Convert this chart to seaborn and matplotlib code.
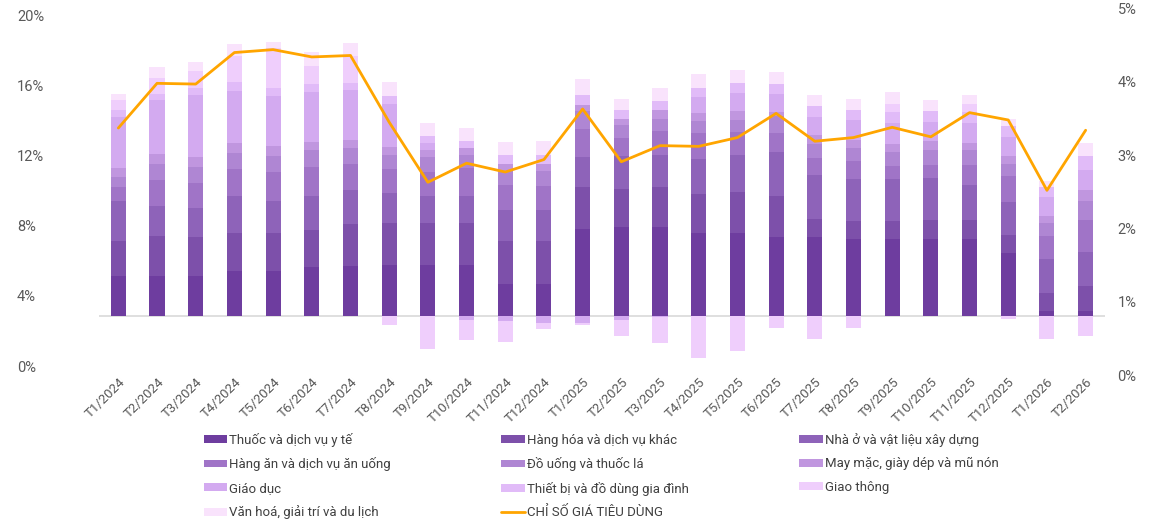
import numpy as np
import pandas as pd
import seaborn as sns
import matplotlib.pyplot as plt
from matplotlib.patches import Patch
from matplotlib.lines import Line2D

# thang
months = ['T1/2024', 'T2/2024', 'T3/2024', 'T4/2024', 'T5/2024', 'T6/2024',
          'T7/2024', 'T8/2024', 'T9/2024', 'T10/2024', 'T11/2024', 'T12/2024',
          'T1/2025', 'T2/2025', 'T3/2025', 'T4/2025', 'T5/2025', 'T6/2025',
          'T7/2025', 'T8/2025', 'T9/2025', 'T10/2025', 'T11/2025', 'T12/2025',
          'T1/2026', 'T2/2026']

# dong gop cua tung nhom (doc tu hinh, don vi truc trai)
thuoc = [2.29, 2.29, 2.29, 2.59, 2.59, 2.82, 2.86, 2.91, 2.91, 2.91, 1.83, 1.83, 4.95,
         5.05, 5.10, 4.76, 4.76, 4.53, 4.48, 4.40, 4.42, 4.42, 4.42, 3.62, 0.30, 0.30]
hang_hoa = [2.00, 2.25, 2.19, 2.17, 2.17, 2.10, 2.40, 2.42, 2.42, 2.42, 2.46, 2.46, 2.42,
            2.21, 2.25, 2.21, 2.29, 2.32, 1.07, 1.03, 1.01, 1.07, 1.07, 1.01, 1.03, 1.41]
nha_o = [2.25, 1.75, 1.70, 2.10, 1.81, 1.94, 1.94, 1.71, 1.54, 1.49, 1.77, 1.77, 1.71,
         1.85, 1.85, 2.00, 2.15, 2.51, 2.46, 2.40, 2.38, 2.36, 2.00, 1.85, 1.94, 1.92]
hang_an = [0.80, 1.47, 1.43, 1.52, 1.62, 1.64, 1.49, 1.33, 1.35, 1.62, 1.43, 1.37, 1.60,
           1.03, 1.37, 1.47, 1.30, 1.05, 1.01, 0.99, 0.72, 0.74, 1.14, 1.49, 1.30, 1.85]
do_uong = [0.61, 0.93, 0.91, 0.90, 0.91, 0.95, 0.91, 0.82, 0.84, 0.74, 0.76, 0.86, 0.99,
           0.72, 0.67, 0.67, 0.70, 0.97, 0.76, 0.76, 0.84, 0.86, 0.82, 0.67, 0.72, 1.05]
may_mac = [0.50, 0.57, 0.55, 0.61, 0.61, 0.46, 0.46, 0.44, 0.38, 0.42, 0.44, 0.40, 0.38,
           0.38, 0.48, 0.44, 0.48, 0.27, 0.51, 0.48, 0.46, 0.51, 0.42, 0.48, 0.42, 0.67]
giao_duc = [2.91, 3.03, 3.50, 2.93, 2.82, 2.86, 2.80, 2.48, 0.42, -0.23, -0.29, -0.42, -0.38,
            -0.23, -0.08, 0.93, 1.01, 1.03, 1.05, 1.10, 1.18, 1.10, 1.14, 1.10, 1.10, 1.14]
thiet_bi = [0.38, 0.34, 0.44, 0.51, 0.48, 0.44, 0.40, 0.42, 0.42, 0.40, 0.51, 0.51, 0.57,
            0.53, 0.53, 0.53, 0.61, 0.57, 0.63, 0.61, 0.61, 0.65, 0.61, 0.61, 0.57, 0.76]
giao_thong = [0.57, 0.95, 0.95, 1.49, 2.29, 1.05, 1.56, -0.51, -1.89, -1.14, -1.18, -0.32, -0.10,
              -0.90, -1.43, -2.38, -2.00, -0.67, -1.31, -0.67, 0.44, 0.00, 0.44, -0.19, -1.31, -1.14]
van_hoa = [0.32, 0.63, 0.53, 0.67, 0.34, 0.80, 0.76, 0.80, 0.72, 0.72, 0.72, 0.80, 0.90,
           0.61, 0.76, 0.80, 0.70, 0.65, 0.61, 0.61, 0.70, 0.63, 0.51, 0.42, 0.34, 0.76]

# chi so gia tieu dung (truc phai, %)
cpi = [3.37, 3.98, 3.97, 4.40, 4.44, 4.34, 4.36, 3.45, 2.63, 2.89, 2.77, 2.94, 3.63,
       2.91, 3.13, 3.12, 3.24, 3.57, 3.19, 3.24, 3.38, 3.25, 3.58, 3.48, 2.52, 3.34]

groups = ['Thuốc và dịch vụ y tế', 'Hàng hóa và dịch vụ khác', 'Nhà ở và vật liệu xây dựng',
          'Hàng ăn và dịch vụ ăn uống', 'Đồ uống và thuốc lá', 'May mặc, giày dép và mũ nón',
          'Giáo dục', 'Thiết bị và đồ dùng gia đình', 'Giao thông', 'Văn hoá, giải trí và du lịch']
series = [thuoc, hang_hoa, nha_o, hang_an, do_uong, may_mac, giao_duc, thiet_bi, giao_thong, van_hoa]
colors = ['#6E3D9F', '#7D50AA', '#8E63B9', '#A074C7', '#AF86D3', '#C096DF',
          '#D3AAF0', '#E1BBF8', '#EFCEFC', '#F9E3FC']
line_color = '#FFA500'
grey = '#595959'

left_ticks = [0, 4, 8, 12, 16, 20]
right_ticks = [0, 1, 2, 3, 4, 5]
BASE = 2.85  # muc goc cua cot tren truc trai

sns.set_theme(style='white')
plt.rcParams['font.family'] = ['Roboto', 'DejaVu Sans']

fig = plt.figure(figsize=(11.55, 5.2), dpi=100)
ax = fig.add_axes([0.0857, 0.273, 0.871, 0.7115])

x = np.arange(len(months))
pos_bottom = np.full(len(months), BASE)
neg_bottom = np.full(len(months), BASE)
for name, vals, color in zip(groups, series, colors):
    v = np.array(vals, dtype=float)
    bottom = np.where(v >= 0, pos_bottom, neg_bottom)
    ax.bar(x, v, bottom=bottom, width=0.39, color=color, linewidth=0, zorder=2)
    pos_bottom += np.clip(v, 0, None)
    neg_bottom += np.clip(v, None, 0)

ax.axhline(BASE, color='#D9D9D9', lw=1.2, zorder=1)
ax.set_xlim(-0.5, len(months) - 0.5)
ax.set_ylim(-0.68, 20.4)
ax.set_yticks(left_ticks)
ax.set_yticklabels([f'{t}%' for t in left_ticks])
ax.tick_params(axis='y', length=0, pad=59, labelsize=10.5, labelcolor=grey)
for lab in ax.get_yticklabels():
    lab.set_ha('left')
ax.set_xticks(x)
ax.set_xticklabels(months, rotation=45, ha='right', rotation_mode='anchor')
ax.tick_params(axis='x', length=0, pad=-2, labelsize=9.5, labelcolor=grey)

ax2 = ax.twinx()
sns.lineplot(x=x, y=cpi, ax=ax2, color=line_color, lw=2, legend=False, zorder=3)
ax2.set_ylim(-0.041, 5.007)
ax2.set_yticks(right_ticks)
ax2.set_yticklabels([f'{t}%' for t in right_ticks])
ax2.tick_params(axis='y', length=0, pad=9, labelsize=10.5, labelcolor=grey)

for a in (ax, ax2):
    sns.despine(ax=a, left=True, right=True, top=True, bottom=True)

# legend: hang ngang 3 cot
handles = [Patch(facecolor=c, edgecolor='none') for c in colors]
handles.append(Line2D([0], [0], color=line_color, lw=2))
labels = groups + ['CHỈ SỐ GIÁ TIÊU DÙNG']
order = [0, 3, 6, 9, 1, 4, 7, 10, 2, 5, 8]
fig.legend([handles[i] for i in order], [labels[i] for i in order],
           ncol=3, loc='upper left', bbox_to_anchor=(197 / 1155, 1 - 426 / 520),
           frameon=False, fontsize=9.5, labelcolor='#404040', borderpad=0,
           handlelength=1.8, handleheight=0.55, handletextpad=0.15,
           labelspacing=0.8, columnspacing=8.35)

fig.savefig('out.png', dpi=100)
